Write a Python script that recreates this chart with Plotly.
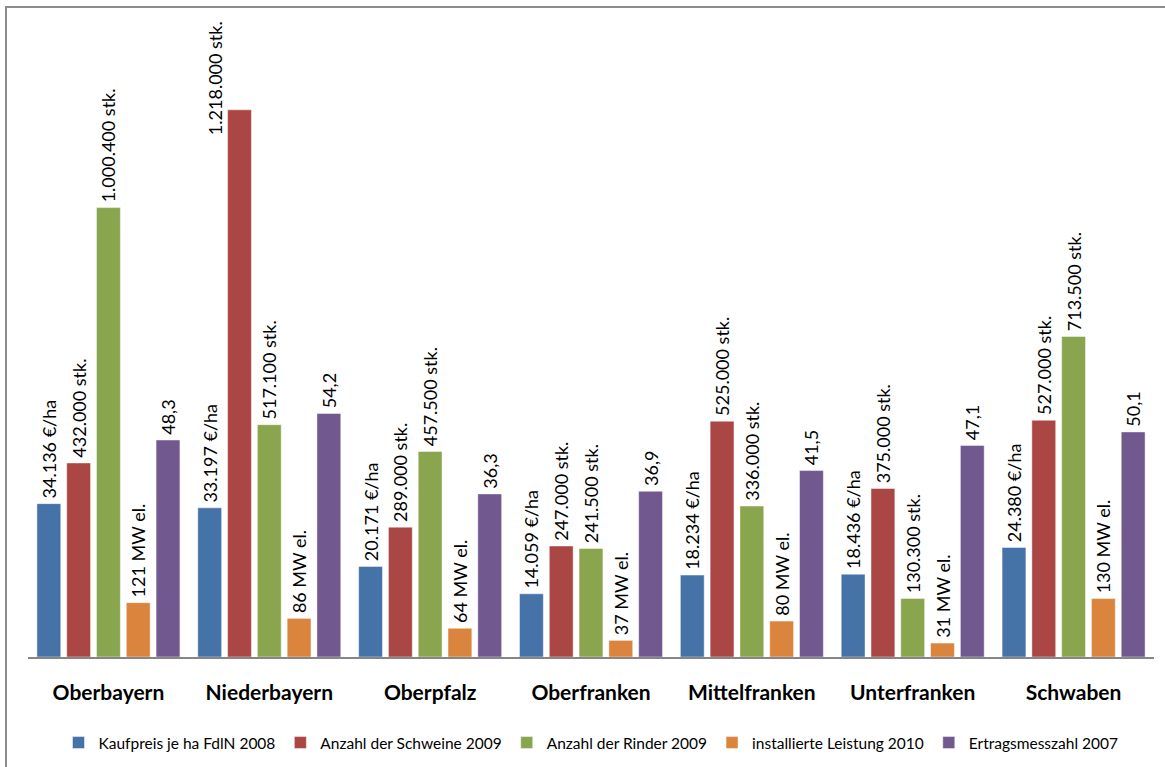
import plotly.graph_objects as go

categories = ["Oberbayern", "Niederbayern", "Oberpfalz", "Oberfranken",
              "Mittelfranken", "Unterfranken", "Schwaben"]

kaufpreis = [34136, 33197, 20171, 14059, 18234, 18436, 24380]          # €/ha
schweine = [432000, 1218000, 289000, 247000, 525000, 375000, 527000]    # stk.
rinder = [1000400, 517100, 457500, 241500, 336000, 130300, 713500]      # stk.
leistung = [121, 86, 64, 37, 80, 31, 130]                              # MW el.
ertrag = [48.3, 54.2, 36.3, 36.9, 41.5, 47.1, 50.1]

# display scale factors used in the original chart (shared hidden axis)
scale_kaufpreis = 10
scale_leistung = 1000
scale_ertrag = 10000

series_names = ["Kaufpreis je ha FdlN 2008", "Anzahl der Schweine 2009",
                "Anzahl der Rinder 2009", "installierte Leistung 2010",
                "Ertragsmesszahl 2007"]
colors = ["#4572A7", "#AA4643", "#89A54E", "#DB843D", "#71588F"]


def de_int(v):
    return f"{int(round(v)):,}".replace(",", ".")


def de_dec(v):
    return f"{v:.1f}".replace(".", ",")


PAD = "\u2009"
texts = [
    [PAD + de_int(v) + " €/ha" for v in kaufpreis],
    [PAD + de_int(v) + " stk." for v in schweine],
    [PAD + de_int(v) + " stk." for v in rinder],
    [PAD + de_int(v) + " MW el." for v in leistung],
    [PAD + de_dec(v) for v in ertrag],
]
heights = [
    [v * scale_kaufpreis for v in kaufpreis],
    schweine,
    rinder,
    [v * scale_leistung for v in leistung],
    [v * scale_ertrag for v in ertrag],
]

# the tallest label does not fit above its bar; as in the original it is
# drawn beside the bar instead (as an annotation)
tall_idx = schweine.index(max(schweine))
tall_text = texts[1][tall_idx].strip(PAD)
texts[1] = [t if i != tall_idx else "" for i, t in enumerate(texts[1])]

FONT = "Lato"

fig = go.Figure()
for name, col, ys, tx in zip(series_names, colors, heights, texts):
    fig.add_trace(go.Bar(
        x=categories, y=ys, name=name, text=tx,
        textposition="outside", textangle=-90,
        textfont=dict(family=FONT, size=18, color="#000000"),
        constraintext="none", cliponaxis=False,
        marker=dict(color=col, line=dict(color="rgba(255,255,255,0.45)", width=1)),
        hoverinfo="skip",
    ))

fig.add_annotation(
    x=categories[tall_idx], y=schweine[tall_idx], xref="x", yref="y",
    xshift=-54, yshift=32, text=tall_text, textangle=-90, showarrow=False,
    xanchor="center", yanchor="middle",
    font=dict(family=FONT, size=18, color="#000000"),
)

W, H = 1165, 767
L, R, T, B = 28, 11, 20, 110
pw, ph = W - L - R, H - T - B


def px_to_paper_x(px):
    return (px - L) / pw


def px_to_paper_y(py):
    return (H - B - py) / ph


fig.update_layout(
    width=W, height=H,
    margin=dict(l=L, r=R, t=T, b=B, autoexpand=False),
    paper_bgcolor="white", plot_bgcolor="white",
    barmode="group", bargap=0.074, bargroupgap=0.2,
    font=dict(family=FONT, color="#000000"),
    showlegend=True,
    legend=dict(orientation="h", x=0.5, xanchor="center",
                y=px_to_paper_y(743), yanchor="middle",
                font=dict(family=FONT, size=15.5, color="#000000"),
                itemwidth=30, itemclick=False, traceorder="normal"),
    xaxis=dict(showline=True, linecolor="#868686", linewidth=2,
               ticks="", showgrid=False, zeroline=False, automargin=False,
               ticklabelstandoff=16,
               tickfont=dict(family=FONT, size=21, color="#000000", weight="bold")),
    yaxis=dict(range=[0, 1418000], visible=False, showgrid=False, zeroline=False,
               automargin=False),
    shapes=[dict(type="rect", xref="paper", yref="paper",
                 x0=px_to_paper_x(6), x1=px_to_paper_x(1180),
                 y0=px_to_paper_y(790), y1=px_to_paper_y(7),
                 line=dict(color="#8C8C8C", width=2), layer="below")],
)

fig.write_html("out.html")
